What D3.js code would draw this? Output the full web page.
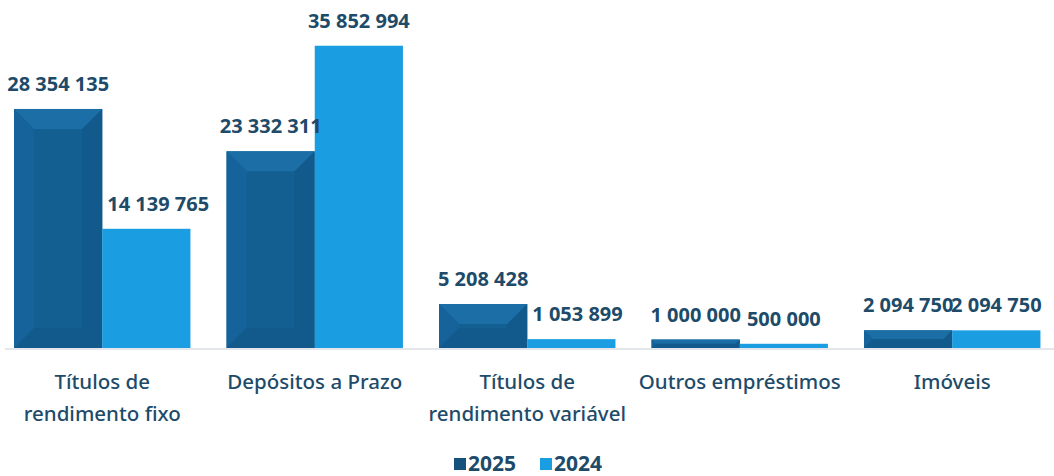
<!DOCTYPE html>
<html><head><meta charset="utf-8">
<script src="https://cdn.jsdelivr.net/npm/d3@7"></script>
<style>body{margin:0;background:#fff}svg{display:block}</style>
</head><body>
<svg id="c" width="1054" height="476"></svg>
<script>
const categories = [["Títulos de","rendimento fixo"],["Depósitos a Prazo"],["Títulos de","rendimento variável"],["Outros empréstimos"],["Imóveis"]];
const seriesNames = ["2025","2024"];
const values2025 = [28354135, 23332311, 5208428, 1000000, 2094750];
const values2024 = [14139765, 35852994, 1053899, 500000, 2094750];
const colors = {"2025":"#135f92","2024":"#1b9de2"};
const legendColors = {"2025":"#14517c","2024":"#1b9de2"};
const textColor = "#1d4b69";
const font = "'Noto Sans', sans-serif";

const svg = d3.select("#c");
const keys = categories.map((c,i)=>"c"+i);
const x0 = d3.scaleBand().domain(keys).range([-4,1058.5]).paddingInner(0.17).paddingOuter(0.085);
const x1 = d3.scaleBand().domain(seriesNames).range([0,x0.bandwidth()]);
const y = d3.scaleLinear().domain([0,36000000]).range([348,44.5]);
const fmt = v => d3.format(",")(v).replace(/,/g," ");

// baseline
svg.append("line").attr("x1",5).attr("x2",1054).attr("y1",y(0)+1).attr("y2",y(0)+1)
  .attr("stroke","#e3e7eb").attr("stroke-width",2);

const data = keys.map((k,i)=>({k, vals:[{s:"2025",v:values2025[i]},{s:"2024",v:values2024[i]}]}));
const g = svg.selectAll("g.grp").data(data).join("g").attr("class","grp")
  .attr("transform",d=>`translate(${x0(d.k)},0)`);

g.each(function(d){
  const gg = d3.select(this);
  d.vals.forEach(o=>{
    const bx = x1(o.s), bw = x1.bandwidth(), top = y(o.v), h = y(0)-top;
    gg.append("rect").attr("x",bx).attr("y",top).attr("width",bw).attr("height",h).attr("fill",colors[o.s]);
    if(o.s==="2025"){
      const b = Math.min(20, h/2);
      const pts = a=>a.map(p=>p.join(",")).join(" ");
      gg.append("polygon").attr("points",pts([[bx,top],[bx+bw,top],[bx+bw-b,top+b],[bx+b,top+b]])).attr("fill","#1b6fa6");
      gg.append("polygon").attr("points",pts([[bx,top],[bx+b,top+b],[bx+b,top+h-b],[bx,top+h]])).attr("fill","#15639a");
      gg.append("polygon").attr("points",pts([[bx+bw,top],[bx+bw-b,top+b],[bx+bw-b,top+h-b],[bx+bw,top+h]])).attr("fill","#115a8b");
      gg.append("polygon").attr("points",pts([[bx,top+h],[bx+b,top+h-b],[bx+bw-b,top+h-b],[bx+bw,top+h]])).attr("fill","#115a8b");
    }
  });
  d.vals.forEach((o,j)=>{
    const bx = x1(o.s), bw = x1.bandwidth(), top = y(o.v);
    const t = gg.append("text").attr("x",bx+bw/2).attr("y",top-18).attr("text-anchor","middle")
      .attr("font-family",font).attr("font-weight",700).attr("font-size",20).attr("fill",textColor)
      .text(fmt(o.v));
    if(o.s==="2024" && d.vals[0].v > o.v){
      const w = t.node().getComputedTextLength();
      t.attr("x", Math.max(bx+bw/2, bx + w/2 + 5));
    }
  });
});

// category labels
categories.forEach((lines,i)=>{
  const cx = x0(keys[i]) + x0.bandwidth()/2;
  const t = svg.append("text").attr("text-anchor","middle").attr("font-family",font)
    .attr("font-weight",500).attr("font-size",20.5).attr("fill",textColor);
  lines.forEach((l,j)=>t.append("tspan").attr("x",cx).attr("y",389+j*32).text(l));
});

// legend
const leg = svg.append("g");
const legItems = [{s:"2025",x:454},{s:"2024",x:540}];
legItems.forEach(it=>{
  leg.append("rect").attr("x",it.x).attr("y",458).attr("width",12).attr("height",12).attr("fill",legendColors[it.s]);
  leg.append("text").attr("x",it.x+14).attr("y",471).attr("font-family",font).attr("font-weight",700)
    .attr("font-size",21).attr("fill",textColor).text(it.s);
});
</script>
</body></html>
